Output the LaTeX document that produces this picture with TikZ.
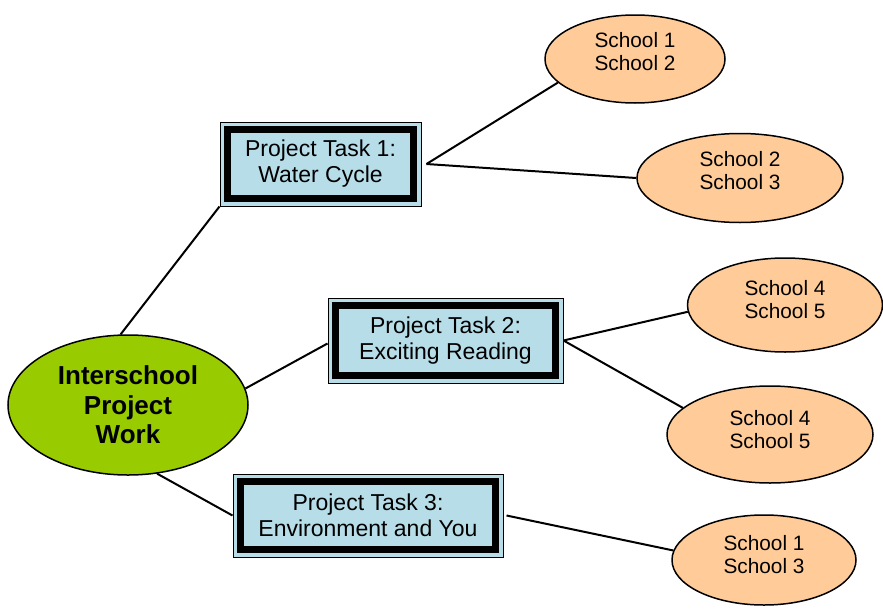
\documentclass[tikz,border=0pt]{standalone}
\usepackage{fontspec}
\setmainfont{Liberation Sans}
\usetikzlibrary{shapes.geometric}
\definecolor{boxblue}{HTML}{B7DEE8}
\definecolor{leafgreen}{HTML}{99CC00}
\definecolor{peach}{HTML}{FFCC99}
\tikzset{
  taskbox/.style={draw=black, line width=1pt, fill=boxblue, rectangle, inner sep=0pt,
    align=center, font=\fontsize{23}{26}\selectfont,
    path picture={\draw[line width=7pt]
      ([shift={(7.5pt,-7.5pt)}]path picture bounding box.north west) rectangle
      ([shift={(-7.5pt,7.5pt)}]path picture bounding box.south east);}},
  school/.style={draw=black, line width=1.5pt, fill=peach, ellipse, inner sep=0pt},
  schooltext/.style={align=center, inner sep=0pt, font=\fontsize{20.8}{23}\selectfont},
  hub/.style={draw=black, line width=1.5pt, fill=leafgreen, ellipse, inner sep=0pt,
    align=center, font=\fontsize{26}{29.5}\selectfont\bfseries},
  link/.style={line width=2pt, black}
}
\begin{document}
\begin{tikzpicture}[x=1pt,y=-1pt]
\useasboundingbox (0,0) rectangle (883,608);
\fill[white] (0,0) rectangle (883,608);

\node[hub, minimum width=240pt, minimum height=140pt] (hub) at (128,405) {Interschool\\Project\\Work};

\node[taskbox, minimum width=201pt, minimum height=84pt] (t1) at (320.5,164) {Project Task 1:\\Water Cycle};
\node[taskbox, minimum width=235pt, minimum height=85pt] (t2) at (445.5,340.5) {Project Task 2:\\Exciting Reading};
\node[taskbox, minimum width=270pt, minimum height=83pt] (t3) at (368,515.5) {Project Task 3:\\Environment and You};

\node[school, minimum width=180pt, minimum height=88pt] (s1) at (635,59) {};
\node[school, minimum width=206pt, minimum height=89pt] (s2) at (740,178) {};
\node[school, minimum width=195pt, minimum height=94pt] (s3) at (785,305) {};
\node[school, minimum width=206pt, minimum height=97pt] (s4) at (770,434.5) {};
\node[school, minimum width=184pt, minimum height=90pt] (s5) at (764,560) {};

\node[schooltext] (s1t) at ([yshift=7pt]s1.center) {School 1\\School 2};
\node[schooltext] (s2t) at ([yshift=7pt]s2.center) {School 2\\School 3};
\node[schooltext] (s3t) at ([yshift=5pt]s3.center) {School 4\\School 5};
\node[schooltext] (s4t) at ([yshift=5pt]s4.center) {School 4\\School 5};
\node[schooltext] (s5t) at ([yshift=5pt]s5.center) {School 1\\School 3};

\coordinate (j1) at ([xshift=5pt]t1.east);
\coordinate (j2) at (t2.east);
\coordinate (j3) at ([xshift=3pt]t3.east);

\draw[link] (hub.96) -- (t1.south west);
\draw[link] (hub.8) -- ([yshift=-3pt]t2.west);
\draw[link] (hub.-67) -- (t3.west);

\draw[link] (j1) -- (s1.197);
\draw[link] (j1) -- (s2.west);
\draw[link] (j2) -- (s3.184);
\draw[link] (j2) -- (s4.163);
\draw[link] (j3) -- (s5.174);
\end{tikzpicture}
\end{document}
